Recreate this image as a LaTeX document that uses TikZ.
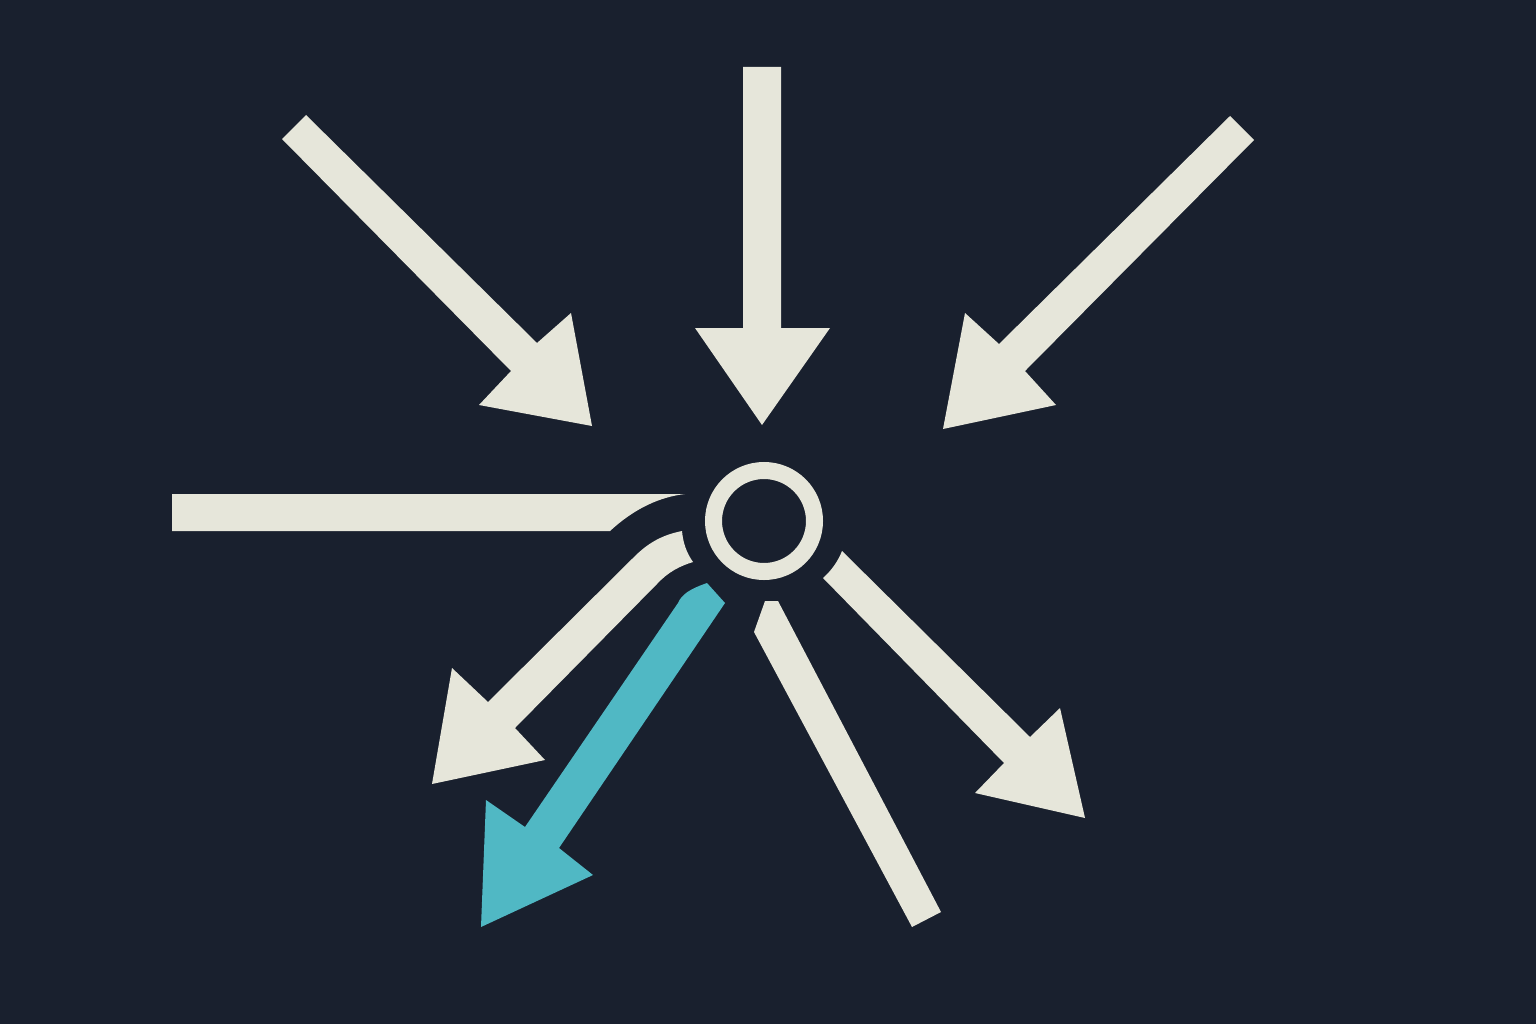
\documentclass[tikz,border=0pt]{standalone}
\definecolor{bgnavy}{HTML}{19202E}
\definecolor{cream}{HTML}{E6E6DA}
\definecolor{tealc}{HTML}{50B8C4}
\tikzset{
  creamshape/.style={fill=cream, draw=none},
  tealshape/.style={fill=tealc, draw=none},
  ringstyle/.style={draw=cream, line width=17pt}
}
\begin{document}
\begin{tikzpicture}[x=1pt, y=-1pt]
  % background / bounding box
  \fill[bgnavy] (0,0) rectangle (1536,1024);
  \useasboundingbox (0,0) rectangle (1536,1024);

  % central ring
  \node[circle, ringstyle, minimum size=101pt, inner sep=0pt] (hub) at (764,521) {};

  % top-left incoming arrow
  \fill[creamshape] (306,115) -- (537,343) -- (571,313) -- (592,426) -- (479,405)
        -- (511,371) -- (282,139) -- cycle;

  % top vertical incoming arrow
  \fill[creamshape] (743,67) -- (781,67) -- (781,328) -- (830,328) -- (762,425)
        -- (695,328) -- (743,328) -- cycle;

  % top-right incoming arrow
  \fill[creamshape] (1230,116) -- (1254,140) -- (1025,371) -- (1056,405) -- (943,429)
        -- (965,313) -- (999,344) -- cycle;

  % left horizontal bar with tapered end
  \fill[creamshape] (172,494) -- (685,494)
        .. controls (660,497) and (635,508) .. (610,531) -- (172,531) -- cycle;

  % lower-left outgoing arrow with curved start
  \fill[creamshape] (682,531)
        .. controls (662,535) and (648,543) .. (634,557)
        -- (488,702) -- (452,668) -- (432,784) -- (545,760) -- (515,728)
        -- (657,584)
        .. controls (668,572) and (680,566) .. (693,562)
        .. controls (686,552) and (683,542) .. (682,531) -- cycle;

  % teal outgoing arrow
  \fill[tealshape] (707,583) -- (725,603) -- (559,848) -- (593,875) -- (481,927)
        -- (486,800) -- (525,827) -- (678,603)
        .. controls (682,594) and (690,589) .. (707,583) -- cycle;

  % bottom bar (no head)
  \fill[creamshape] (765,601) -- (778,601) -- (941,912) -- (912,927) -- (754,632) -- cycle;

  % lower-right outgoing arrow
  \fill[creamshape] (842,551) -- (1030,737) -- (1060,708) -- (1085,818) -- (975,793)
        -- (1004,763) -- (823,578)
        .. controls (832,570) and (838,561) .. (842,551) -- cycle;
\end{tikzpicture}
\end{document}
